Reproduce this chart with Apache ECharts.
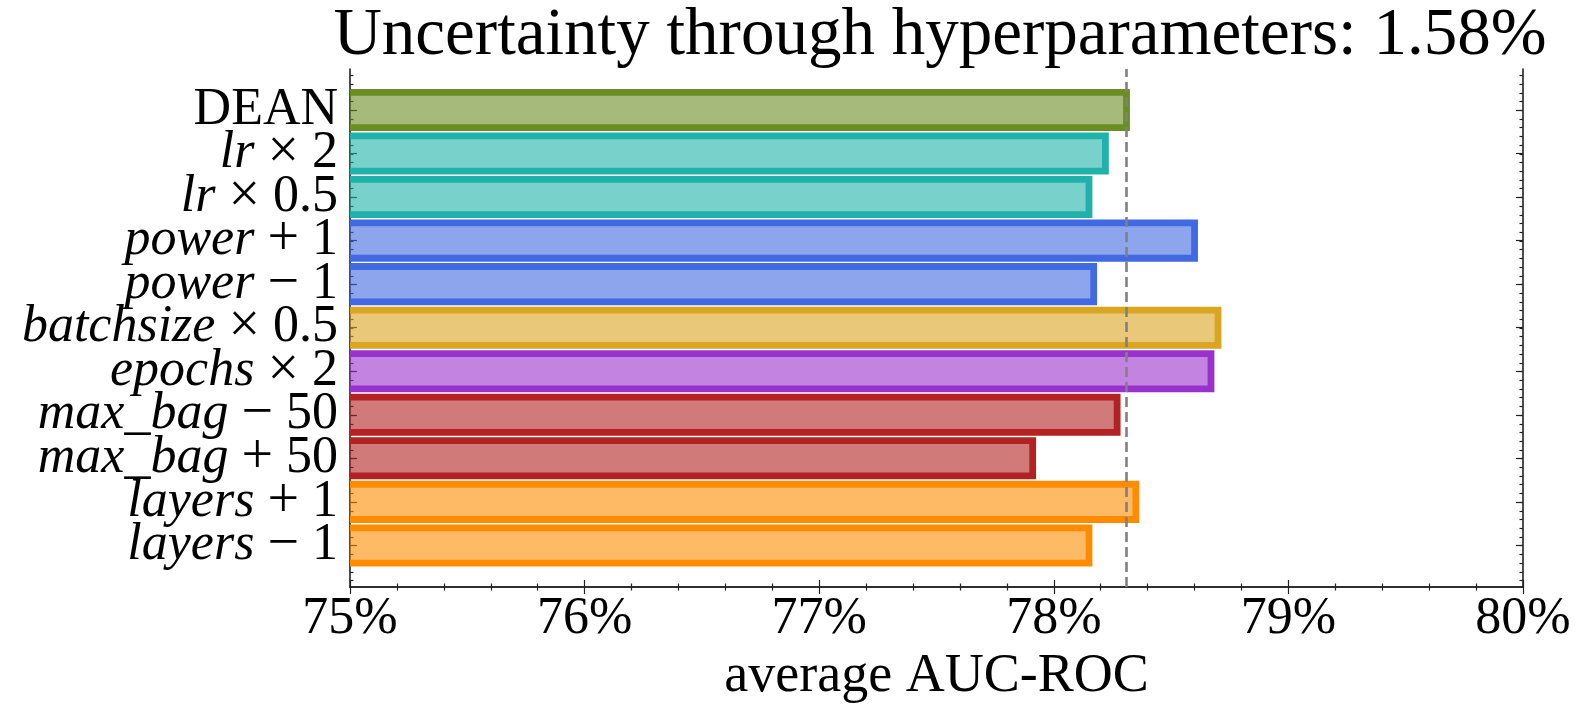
<!DOCTYPE html>
<html>
<head>
<meta charset="utf-8">
<script src="https://cdn.jsdelivr.net/npm/echarts@6/dist/echarts.min.js"></script>
<style>
  html, body { margin: 0; padding: 0; background: #fff; }
  #main { width: 1579px; height: 706px; }
</style>
</head>
<body>
<div id="main"></div>
<script>
// data
const categories = ['DEAN', 'lr × 2', 'lr × 0.5', 'power + 1', 'power − 1', 'batchsize × 0.5',
  'epochs × 2', 'max_bag − 50', 'max_bag + 50', 'layers + 1', 'layers − 1'];
const values = [78.31, 78.22, 78.15, 78.60, 78.17, 78.70, 78.67, 78.27, 77.91, 78.35, 78.15];
const xTicks = [75, 76, 77, 78, 79, 80];
const titleText = 'Uncertainty through hyperparameters: 1.58%';

// styles
const edgeColors = ['#6b8e23', '#20b2aa', '#20b2aa', '#4169e1', '#4169e1', '#daa520',
  '#9932cc', '#b22222', '#b22222', '#ff8c00', '#ff8c00'];
const FONT = 'Liberation Serif';
const INK = '#222';

function fade(hex, a) {
  let r = parseInt(hex.slice(1, 3), 16), g = parseInt(hex.slice(3, 5), 16), b = parseInt(hex.slice(5, 7), 16);
  return 'rgba(' + r + ',' + g + ',' + b + ',' + a + ')';
}

// math-style label: letters italic, operators padded
function mathLabel(s) {
  return s.replace(/([a-z_]+)/g, '{i|$1}').replace(/ ([×+−]) /g, '{o|$1}');
}

// bar with matplotlib-like edge: stroke centred on the outline, open at the axis side
function renderBar(params, api) {
  let start = api.coord([xTicks[0], api.value(1)]);
  let end = api.coord([api.value(0), api.value(1)]);
  let h = api.size([0, 1])[1] * 0.81;
  let top = start[1] - h / 2, bottom = start[1] + h / 2;
  let edge = edgeColors[params.dataIndex];
  return {
    type: 'group',
    children: [
      {type: 'rect', shape: {x: start[0], y: top, width: end[0] - start[0], height: h},
        style: {fill: fade(edge, 0.6)}},
      {type: 'polyline', shape: {points: [[start[0], top], [end[0], top], [end[0], bottom], [start[0], bottom]]},
        style: {fill: null, stroke: edge, lineWidth: 6.8, lineJoin: 'miter', lineCap: 'butt'}}
    ]
  };
}

let chart = echarts.init(document.getElementById('main'));

// three grids: frame (axis lines + x ticks), fine y ticks, bars
let left = 350, right = 1579 - 1523;
let option = {
  animation: false,
  backgroundColor: '#fff',
  title: {
    text: titleText,
    left: 935,
    top: -2,
    textAlign: 'center',
    textStyle: {fontFamily: FONT, fontWeight: 'normal', fontSize: 67, color: '#000'}
  },
  grid: [
    {left: left, right: right, top: 69, bottom: 706 - 587, outerBoundsMode: 'none'},
    {left: left, right: right, top: 75.5, bottom: 706 - 580.5, outerBoundsMode: 'none'},
    {left: left, right: right, top: 88.2, bottom: 706 - 567.2, outerBoundsMode: 'none'}
  ],
  xAxis: [
    {
      gridIndex: 0, type: 'value', position: 'bottom', min: xTicks[0], max: xTicks[xTicks.length - 1], interval: 1,
      name: 'average AUC-ROC', nameLocation: 'middle', nameGap: 61,
      nameTextStyle: {fontFamily: FONT, fontSize: 54, color: '#000'},
      axisLine: {lineStyle: {color: INK, width: 1.6}},
      axisTick: {inside: true, length: 7, lineStyle: {color: INK, width: 1.2}},
      minorTick: {show: true, splitNumber: 5, length: 3.5, lineStyle: {color: INK, width: 1.2}},
      axisLabel: {formatter: '{value}%', fontFamily: FONT, fontSize: 52, color: '#000', margin: 6},
      splitLine: {show: false}
    },
    {
      gridIndex: 0, type: 'value', position: 'top', min: xTicks[0], max: xTicks[xTicks.length - 1], interval: 1,
      axisLine: {lineStyle: {color: INK, width: 1.6}},
      axisTick: {inside: true, length: 7, lineStyle: {color: INK, width: 1.2}},
      minorTick: {show: true, splitNumber: 5, length: 3.5, lineStyle: {color: INK, width: 1.2}},
      axisLabel: {show: false},
      splitLine: {show: false}
    },
    {gridIndex: 1, type: 'value', min: 75, max: 80, show: false},
    {gridIndex: 2, type: 'value', min: 75, max: 80, show: false}
  ],
  yAxis: [
    {gridIndex: 0, type: 'value', position: 'left', min: 0, max: 1,
      axisLine: {show: true, lineStyle: {color: INK, width: 1.6}},
      axisTick: {show: false}, axisLabel: {show: false}, splitLine: {show: false}},
    {gridIndex: 0, type: 'value', position: 'right', min: 0, max: 1,
      axisLine: {show: true, lineStyle: {color: INK, width: 1.6}},
      axisTick: {show: false}, axisLabel: {show: false}, splitLine: {show: false}},
    {gridIndex: 1, type: 'value', position: 'left', inverse: true, min: -0.8, max: 10.8, interval: 0.2,
      axisLine: {show: false}, axisTick: {show: true, inside: true, length: 3.5, lineStyle: {color: INK, width: 1.2}},
      axisLabel: {show: false}, splitLine: {show: false}},
    {gridIndex: 1, type: 'value', position: 'right', inverse: true, min: -0.8, max: 10.8, interval: 0.2,
      axisLine: {show: false}, axisTick: {show: true, inside: true, length: 3.5, lineStyle: {color: INK, width: 1.2}},
      axisLabel: {show: false}, splitLine: {show: false}},
    {gridIndex: 2, type: 'category', position: 'left', inverse: true, data: categories,
      axisLine: {show: false},
      axisTick: {show: true, inside: true, alignWithLabel: true, interval: 0, length: 7, lineStyle: {color: INK, width: 1.2}},
      axisLabel: {
        interval: 0, margin: 12, fontFamily: FONT, fontSize: 52, color: '#000',
        formatter: mathLabel,
        rich: {
          i: {fontFamily: FONT, fontStyle: 'italic', fontSize: 52, color: '#000'},
          o: {fontFamily: FONT, fontSize: 56, color: '#000', padding: [0, 13]}
        }
      }},
    {gridIndex: 2, type: 'category', position: 'right', inverse: true, data: categories,
      axisLine: {show: false},
      axisTick: {show: true, inside: true, alignWithLabel: true, interval: 0, length: 7, lineStyle: {color: INK, width: 1.2}},
      axisLabel: {show: false}}
  ],
  series: [
    {
      type: 'custom',
      xAxisIndex: 3, yAxisIndex: 4,
      renderItem: renderBar,
      encode: {x: 0, y: 1},
      data: values.map((v, i) => [v, i])
    },
    {
      // reference line at the DEAN result, spanning the whole frame
      type: 'scatter',
      xAxisIndex: 0, yAxisIndex: 0,
      symbolSize: 0,
      data: [[values[0], 0.5]],
      markLine: {
        silent: true, symbol: 'none', label: {show: false},
        lineStyle: {color: '#808080', width: 2.6, type: [10, 5]},
        data: [{xAxis: values[0]}]
      }
    }
  ]
};
chart.setOption(option);
</script>
</body>
</html>
